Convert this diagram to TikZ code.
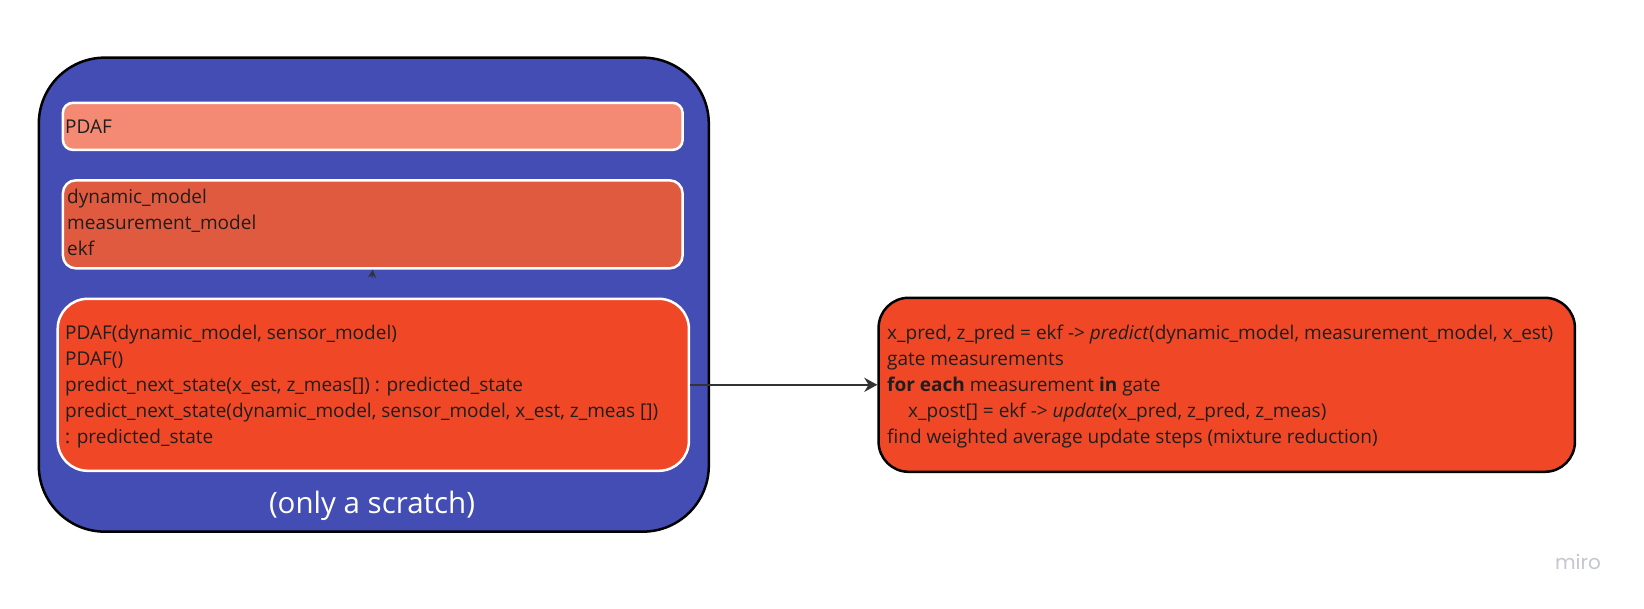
\documentclass[tikz,border=0pt]{standalone}
\usepackage{fontspec}
\setmainfont{Open Sans}
\newfontfamily\logofont{Poppins}
\usetikzlibrary{arrows.meta}
\definecolor{outerblue}{RGB}{67,77,179}
\definecolor{salmon}{RGB}{245,138,116}
\definecolor{midred}{RGB}{224,90,64}
\definecolor{brightred}{RGB}{240,72,38}
\definecolor{txt}{RGB}{30,30,30}
\definecolor{arrowgray}{RGB}{51,51,51}
\definecolor{mirogray}{RGB}{196,199,208}
\tikzset{
  box/.style={rectangle, inner sep=0pt, line width=2.5pt},
  inner/.style={box, draw=white},
  outer/.style={box, draw=black},
  body/.style={anchor=west, align=left, inner sep=0pt, text=txt,
    font=\fontsize{19}{26}\selectfont},
  conn/.style={draw=arrowgray, line width=2.2pt, -{Stealth[length=13pt,width=14pt]}},
}
\begin{document}
\begin{tikzpicture}[x=1pt,y=-1pt]
\useasboundingbox (0,0) rectangle (1644,608);
\fill[white] (0,0) rectangle (1644,608);

\node[outer, fill=outerblue, minimum width=670pt, minimum height=474pt, rounded corners=66pt] (frame) at (373.8,294.65) {};
\node[inner, fill=salmon, minimum width=619.7pt, minimum height=47.1pt, rounded corners=10pt] (pdaf) at (372.75,126.35) {};
\node[inner, fill=midred, minimum width=619.7pt, minimum height=88.1pt, rounded corners=13pt] (mid) at (372.75,224.35) {};
\node[inner, fill=brightred, minimum width=631.2pt, minimum height=172pt, rounded corners=30pt] (bot) at (373.3,384.8) {};
\node[outer, fill=brightred, minimum width=696.3pt, minimum height=174pt, rounded corners=30pt] (right) at (1226.75,384.8) {};

\node[body] (pdaftxt) at (65,126.9) {PDAF};
\node[body] (midtxt) at (67,222.3) {dynamic\_model\\measurement\_model\\ekf};
\node[body] (bottxt) at (65,386.4) {PDAF(dynamic\_model, sensor\_model)\\PDAF()\\predict\_next\_state(x\_est, z\_meas[]) : predicted\_state\\predict\_next\_state(dynamic\_model, sensor\_model, x\_est, z\_meas [])\\: predicted\_state};
\node[body] (righttxt) at (887,386.4) {x\_pred, z\_pred = ekf -> \textit{predict}(dynamic\_model, measurement\_model, x\_est)\\gate measurements\\\textbf{for each} measurement \textbf{in} gate\\\hspace*{21pt}x\_post[] = ekf -> \textit{update}(x\_pred, z\_pred, z\_meas)\\find weighted average update steps (mixture reduction)};

\node[text=white, inner sep=0pt, font=\fontsize{29.5}{34}\selectfont] (scratch) at (372,506) {(only a scratch)};

\coordinate (tipstart) at (372,278);
\draw[draw=arrowgray, line width=1pt, -{Stealth[length=8pt,width=8pt]}] (tipstart) -- (mid.south);
\draw[conn] (bot.east) -- (right.west);

\node[text=mirogray, inner sep=0pt, font=\logofont\fontsize{20}{24}\selectfont] (miro) at (1578,562) {miro};
\end{tikzpicture}
\end{document}
